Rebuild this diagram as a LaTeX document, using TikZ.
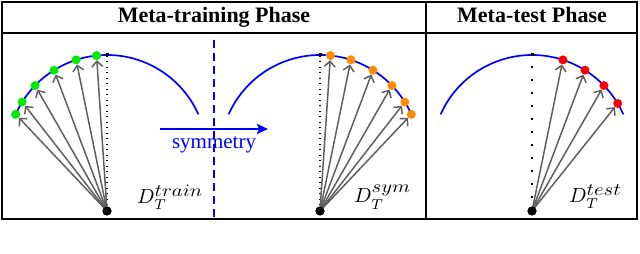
\documentclass[tikz,border=0pt]{standalone}
\usepackage{fontspec}
\usepackage{graphicx}
\setmainfont{Liberation Serif}
\usetikzlibrary{arrows.meta}
\definecolor{ptgreen}{RGB}{0,235,0}
\definecolor{ptorange}{RGB}{255,140,0}
\definecolor{ptred}{RGB}{255,0,0}
\definecolor{raygray}{RGB}{95,95,95}
\newcommand{\dlab}[1]{\scalebox{2.05}{$D_T^{\scalebox{1.0}[0.85]{$#1$}}$}}
\tikzset{
  framebox/.style={line width=2pt},
  curve/.style={blue, line width=1.7pt},
  ray/.style={draw=raygray, line width=1.5pt, -{Straight Barb[length=5.5pt,width=11pt]}},
  dotpt/.style={circle, inner sep=0pt, minimum size=9pt},
  basept/.style={circle, fill=black, inner sep=0pt, minimum size=9pt},
  topmark/.style={rectangle, fill=black, inner sep=0pt, minimum size=3pt},
  guide/.style={black, line width=1.4pt, dash pattern=on 1.4pt off 4.1pt},
  looseguide/.style={black, line width=2pt, dash pattern=on 2pt off 11pt},
  header/.style={font=\bfseries\fontsize{22}{26}\selectfont, anchor=base, inner sep=0pt},
  dlabel/.style={anchor=base west, inner sep=0pt, font=\normalsize},
  symarrow/.style={blue, line width=2.2pt, -{Stealth[length=11pt,width=10pt,inset=2pt]}},
  mirror/.style={blue, line width=2.2pt, dash pattern=on 8pt off 5pt}
}
\begin{document}
\begin{tikzpicture}[x=1pt,y=1pt]
\useasboundingbox (0,0) rectangle (640,254);
% frame
\draw[framebox] (2,35) rectangle (637,252);
\draw[framebox] (2,221) -- (637,221);
\draw[framebox] (426,35) -- (426,252);
\node[header] (h1) at (214,231) {Meta-training Phase};
\node[header] (h2) at (532,231) {Meta-test Phase};
% centres
\coordinate (c1) at (107,99);
\coordinate (c2) at (320,99);
\coordinate (c3) at (532,99);
% arcs
\draw[curve] ([shift={(156:100)}]c1) arc[start angle=156, end angle=24, radius=100];
\draw[curve] ([shift={(156:100)}]c2) arc[start angle=156, end angle=24, radius=100];
\draw[curve] ([shift={(156:100)}]c3) arc[start angle=156, end angle=24, radius=100];
% bases and tops
\node[basept] (b1) at (107,43) {};
\node[basept] (b2) at (320,43) {};
\node[basept] (b3) at (532,43) {};
\node[topmark] (t1) at (107,199) {};
\node[topmark] (t2) at (320,199) {};
\node[topmark] (t3) at (532,199) {};
\draw[guide] (b1.center) -- (t1.center);
\draw[guide] (b2.center) -- (t2.center);
\draw[looseguide] (b3.center) -- (t3.center);
% points
\foreach \a [count=\i] in {96,108,122,136,148,156}{
  \node[dotpt, fill=ptgreen] (g\i) at ([shift={(\a:100)}]c1) {};
  \draw[ray] (b1.center) -- (g\i);
}
\foreach \a [count=\i] in {84,72,58,44,32,24}{
  \node[dotpt, fill=ptorange] (o\i) at ([shift={(\a:100)}]c2) {};
  \draw[ray] (b2.center) -- (o\i);
}
\foreach \a [count=\i] in {72,58,44,31}{
  \node[dotpt, fill=ptred] (r\i) at ([shift={(\a:100)}]c3) {};
  \draw[ray] (b3.center) -- (r\i);
}
\node[basept] at (b1) {};
\node[basept] at (b2) {};
\node[basept] at (b3) {};
% mirror line and symmetry arrow
\coordinate (m1) at (214,214);
\coordinate (m2) at (214,35);
\draw[mirror] (m1) -- (m2);
\coordinate (sa) at (160,125);
\coordinate (sb) at (268,125);
\draw[symarrow] (sa) -- (sb);
\node[blue, anchor=base, inner sep=0pt, font=\fontsize{21}{24}\selectfont] (sym) at (214,105) {symmetry};
% labels
\node[dlabel] (l1) at (137,50) {\dlab{train}};
\node[dlabel] (l2) at (354,51) {\dlab{sym}};
\node[dlabel] (l3) at (569,51) {\dlab{test}};
\end{tikzpicture}
\end{document}
